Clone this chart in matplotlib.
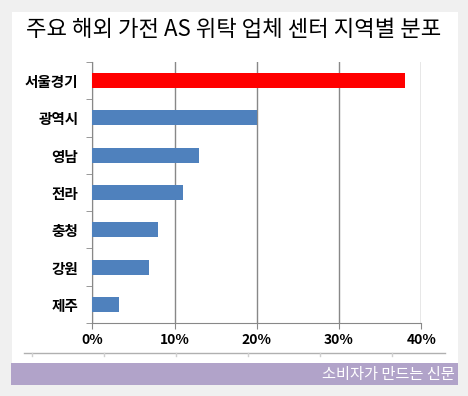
import matplotlib
matplotlib.use("Agg")
import matplotlib.pyplot as plt
from matplotlib.patches import Rectangle
from matplotlib.lines import Line2D
from matplotlib.ticker import FixedLocator

plt.rcParams['font.family'] = ['Noto Sans CJK KR', 'DejaVu Sans']

title = "주요 해외 가전 AS 위탁 업체 센터 지역별 분포"
categories = ["서울경기", "광역시", "영남", "전라", "충청", "강원", "제주"]
values = [38.0, 20.0, 13.0, 11.0, 8.0, 6.9, 3.3]
colors = ["#ff0000", "#4f81bd", "#4f81bd", "#4f81bd", "#4f81bd", "#4f81bd", "#4f81bd"]
xticks = [0, 10, 20, 30, 40]
xticklabels = ["0%", "10%", "20%", "30%", "40%"]
footer = "소비자가 만드는 신문"

W, H = 468, 396
fig = plt.figure(figsize=(W / 100, H / 100), dpi=100)
fig.patch.set_facecolor("#f0f0f0")

def fx(px):
    return px / W

def fy(py):
    return 1 - py / H

# white panel
fig.patches.append(Rectangle((fx(12), fy(363)), fx(446), 351 / H, transform=fig.transFigure,
                             facecolor="white", edgecolor="none", zorder=-2))
# purple banner
fig.patches.append(Rectangle((fx(11), fy(385)), fx(447), 22 / H, transform=fig.transFigure,
                             facecolor="#b1a3c9", edgecolor="none", zorder=-1))
fig.text(fx(455), fy(374), footer, color="white", fontsize=11, ha="right", va="center")

# decorative line
fig.lines.append(Line2D([fx(24), fx(445)], [fy(353), fy(353)], transform=fig.transFigure,
                        color="#b0b0b0", lw=1, zorder=-1))
for tx in [31.7, 103.7, 175.7, 247.7, 319.7, 391.7]:
    fig.lines.append(Line2D([fx(tx), fx(tx)], [fy(353), fy(356)], transform=fig.transFigure,
                            color="#d0d0d0", lw=1, zorder=-1))

fig.text(0.5, fy(30), title, fontsize=16, ha="center", va="center", color="black")

ax = fig.add_axes([fx(92.3), fy(323), fx(421.3 - 92.3), 261 / H])
ax.set_zorder(2)
ax.set_facecolor("none")
n = len(categories)
ypos = list(range(n))
ax.barh(ypos, values, height=0.4, color=colors, zorder=3)
ax.set_xlim(0, 40)
ax.set_ylim(n - 0.5, -0.5)
ax.set_yticks(ypos)
ax.set_yticklabels(categories, fontsize=10.5, fontweight="bold")
ax.yaxis.set_minor_locator(FixedLocator([i - 0.5 for i in range(n + 1)]))
ax.tick_params(axis="y", which="major", length=0, pad=10)
ax.tick_params(axis="y", which="minor", length=4, color="#888888", direction="out")
ax.set_xticks(xticks)
ax.set_xticklabels(xticklabels, fontsize=10, fontweight="bold")
ax.tick_params(axis="x", length=4, color="#888888", direction="out", pad=3)
ax.grid(axis="x", color="#888888", lw=1, zorder=0)
for s in ["top", "right"]:
    ax.spines[s].set_visible(False)
for s in ["left", "bottom"]:
    ax.spines[s].set_color("#888888")

fig.savefig("out.png", dpi=100, facecolor=fig.get_facecolor())
